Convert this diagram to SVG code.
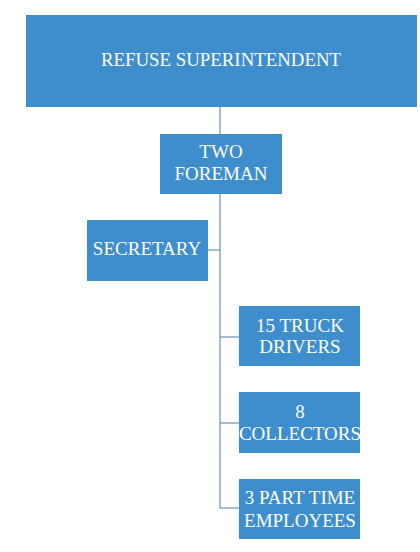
<svg xmlns="http://www.w3.org/2000/svg" width="420" height="552" viewBox="0 0 420 552">
  <style>
    .box { fill: #3e8ecd; }
    .label { fill: #ffffff; font-family: "Liberation Serif", "Times New Roman", serif; font-size: 19px; text-anchor: middle; }
    .link { stroke: #6b8fae; stroke-width: 1.2; fill: none; }
  </style>
  <rect width="420" height="552" fill="#ffffff"/>

  <g id="connectors">
    <path class="link" d="M220 107 V134"/>
    <path class="link" d="M220 194 V508"/>
    <path class="link" d="M208 250 H220"/>
    <path class="link" d="M220 337 H239"/>
    <path class="link" d="M220 423 H239"/>
    <path class="link" d="M220 508 H239"/>
  </g>

  <g id="superintendent">
    <rect class="box" x="26" y="15" width="391" height="92"/>
    <text class="label" x="221" y="66" textLength="240" lengthAdjust="spacingAndGlyphs">REFUSE SUPERINTENDENT</text>
  </g>

  <g id="foreman">
    <rect class="box" x="160" y="134" width="122" height="60"/>
    <text class="label" x="221" y="158">TWO</text>
    <text class="label" x="221" y="180">FOREMAN</text>
  </g>

  <g id="secretary">
    <rect class="box" x="87" y="220" width="121" height="61"/>
    <text class="label" x="147" y="255">SECRETARY</text>
  </g>

  <g id="truck-drivers">
    <rect class="box" x="239" y="306" width="121" height="60"/>
    <text class="label" x="300" y="332">15 TRUCK</text>
    <text class="label" x="300" y="353">DRIVERS</text>
  </g>

  <g id="collectors">
    <rect class="box" x="239" y="392" width="121" height="61"/>
    <text class="label" x="300" y="418">8</text>
    <text class="label" x="300" y="440">COLLECTORS</text>
  </g>

  <g id="part-time">
    <rect class="box" x="239" y="479" width="121" height="60"/>
    <text class="label" x="300" y="504">3 PART TIME</text>
    <text class="label" x="300" y="527">EMPLOYEES</text>
  </g>
</svg>
